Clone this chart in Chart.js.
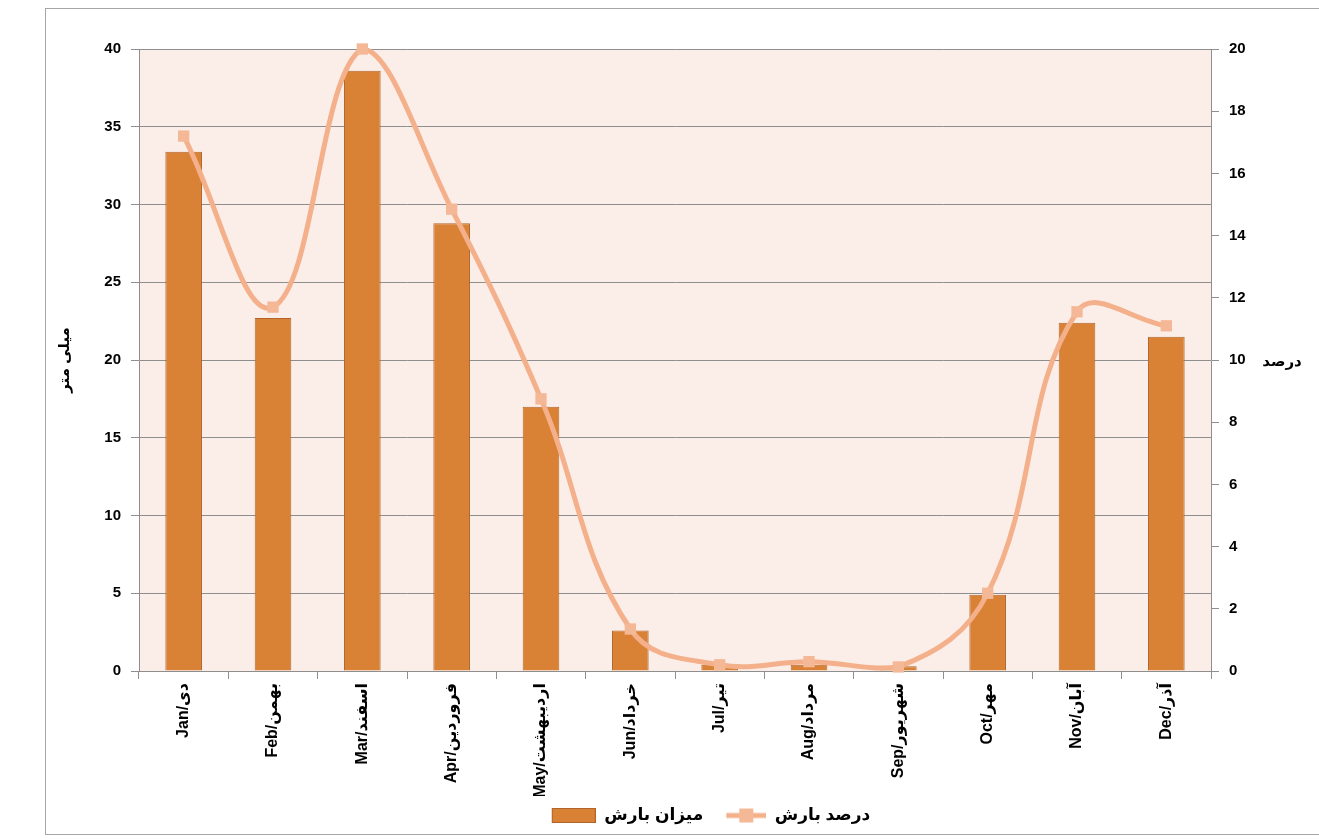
<!DOCTYPE html>
<html>
<head>
<meta charset="utf-8">
<script src="https://cdn.jsdelivr.net/npm/chart.js@4"></script>
<style>
  html,body{margin:0;padding:0;background:#fff;overflow:hidden}
  #frame{position:absolute;left:45px;top:8px;width:1290px;height:827px;border:1px solid #a6a6a6;box-sizing:border-box}
  #wrap{position:absolute;left:0;top:0;width:1274px;height:825px}
</style>
</head>
<body>
<div id="frame"><div id="wrap"><canvas id="c"></canvas></div></div>
<script>
/* rainfall per month: mm (bars, left axis) and % of yearly (line, right axis) */
var MONTHS = ['Jan/دی','Feb/بهمن','Mar/اسفند','Apr/فروردین','May/اردیبهشت','Jun/خرداد',
              'Jul/تیر','Aug/مرداد','Sep/شهریور','Oct/مهر','Nov/آبان','Dec/آذر'];
var RAIN_MM  = [33.4, 22.7, 38.6, 28.8, 17.0, 2.6, 0.4, 0.4, 0.3, 4.9, 22.4, 21.5];
var RAIN_PCT = [17.2, 11.7, 20.0, 14.85, 8.75, 1.35, 0.2, 0.3, 0.13, 2.5, 11.55, 11.1];
var MM_TICKS  = {min:0, max:40, step:5};
var PCT_TICKS = {min:0, max:20, step:2};

var C_BAR = '#D98236', C_BAR_EDGE = '#B2652B', C_LINE = '#F4B08A', C_MARK = '#F4B896';
var C_PLOT = '#FBEEE9', C_GRID = '#8e8e8e';
var FONT = '"Liberation Sans", "DejaVu Sans", Arial, sans-serif';
var SW = 52; // legend swatch slot width

// legend swatches drawn on small canvases, right-aligned in their slot
function lineSwatch(){
  var cv = document.createElement('canvas');
  cv.width = SW; cv.height = 16;
  var g = cv.getContext('2d');
  g.strokeStyle = C_LINE; g.lineWidth = 5;
  g.beginPath(); g.moveTo(SW-40,8); g.lineTo(SW,8); g.stroke();
  g.fillStyle = C_MARK; g.fillRect(SW-27,1,14,14);
  return cv;
}
function barSwatch(){
  var cv = document.createElement('canvas');
  cv.width = SW; cv.height = 15;
  var g = cv.getContext('2d');
  g.fillStyle = C_BAR; g.fillRect(SW-44,0,44,15);
  g.strokeStyle = C_BAR_EDGE; g.lineWidth = 1; g.strokeRect(SW-43.5,0.5,43,14);
  return cv;
}

var plotBg = {
  id:'plotBg',
  afterLayout:function(ch){
    // legend in the original sits a bit right of centre
    ch.legend.left += 24; ch.legend.right += 24;
  },
  beforeDraw:function(ch){
    var a = ch.chartArea, x = ch.ctx;
    x.save(); x.fillStyle = C_PLOT;
    x.fillRect(a.left, a.top, a.right-a.left, a.bottom-a.top);
    x.restore();
  },
  afterDraw:function(ch){
    // right axis title sits horizontally, as in the original
    var x = ch.ctx;
    x.save();
    x.font = 'bold 15px ' + FONT;
    x.fillStyle = '#000'; x.textAlign = 'center'; x.textBaseline = 'middle';
    x.fillText('درصد', ch.chartArea.right + 71, (ch.chartArea.top+ch.chartArea.bottom)/2 + 2);
    x.restore();
  }
};

new Chart(document.getElementById('c'), {
  data:{
    labels: MONTHS,
    datasets:[
      { type:'line', label:'درصد بارش', data:RAIN_PCT, yAxisID:'y2',
        borderColor:C_LINE, borderWidth:5, tension:0.4, cubicInterpolationMode:'default',
        pointStyle:'rect', pointRadius:8, pointHoverRadius:8,
        pointBackgroundColor:C_MARK, pointBorderColor:C_MARK, pointBorderWidth:0,
        clip:false, order:0 },
      { type:'bar', label:'میزان بارش', data:RAIN_MM, yAxisID:'y',
        backgroundColor:C_BAR, borderColor:C_BAR_EDGE, borderWidth:1,
        categoryPercentage:1, barPercentage:0.41, order:1 }
    ]
  },
  options:{
    responsive:true, maintainAspectRatio:false, animation:false,
    layout:{ padding:{top:40, left:0, right:0, bottom:0} },
    plugins:{
      tooltip:{enabled:false},
      legend:{
        position:'bottom', reverse:true,
        labels:{
          font:{size:17, weight:'bold', family:FONT}, color:'#000',
          usePointStyle:true, pointStyleWidth:SW, boxHeight:16, padding:11,
          generateLabels:function(ch){
            return ch.data.datasets.map(function(d,i){
              var isLine = d.type==='line';
              return { text:d.label, datasetIndex:i,
                fillStyle: isLine ? C_MARK : C_BAR,
                strokeStyle: isLine ? C_MARK : C_BAR_EDGE, lineWidth:0,
                pointStyle: isLine ? lineSwatch() : barSwatch(), hidden:false };
            });
          }
        }
      }
    },
    scales:{
      x:{
        grid:{ offset:true, drawOnChartArea:false, color:C_GRID, tickLength:8 },
        border:{ color:C_GRID },
        ticks:{ minRotation:90, maxRotation:90, autoSkip:false, color:'#000',
          font:{size:16, weight:'bold', family:FONT}, padding:4 },
        afterFit:function(s){ s.height = 125; }
      },
      y:{
        position:'left', min:MM_TICKS.min, max:MM_TICKS.max,
        ticks:{ stepSize:MM_TICKS.step, color:'#000', font:{size:15, weight:'bold', family:FONT}, padding:10 },
        grid:{ color:C_GRID, tickLength:8 },
        border:{ color:C_GRID },
        title:{ display:true, text:'میلی متر', color:'#000', font:{size:15, weight:'bold', family:FONT}, padding:{top:10,bottom:0} },
        afterFit:function(s){ s.width = 93; }
      },
      y2:{
        position:'right', min:PCT_TICKS.min, max:PCT_TICKS.max,
        ticks:{ stepSize:PCT_TICKS.step, color:'#000', font:{size:15, weight:'bold', family:FONT}, padding:10 },
        grid:{ drawOnChartArea:false, color:C_GRID, tickLength:8 },
        border:{ color:C_GRID },
        afterFit:function(s){ s.width = 109; }
      }
    }
  },
  plugins:[plotBg]
});
</script>
</body>
</html>
